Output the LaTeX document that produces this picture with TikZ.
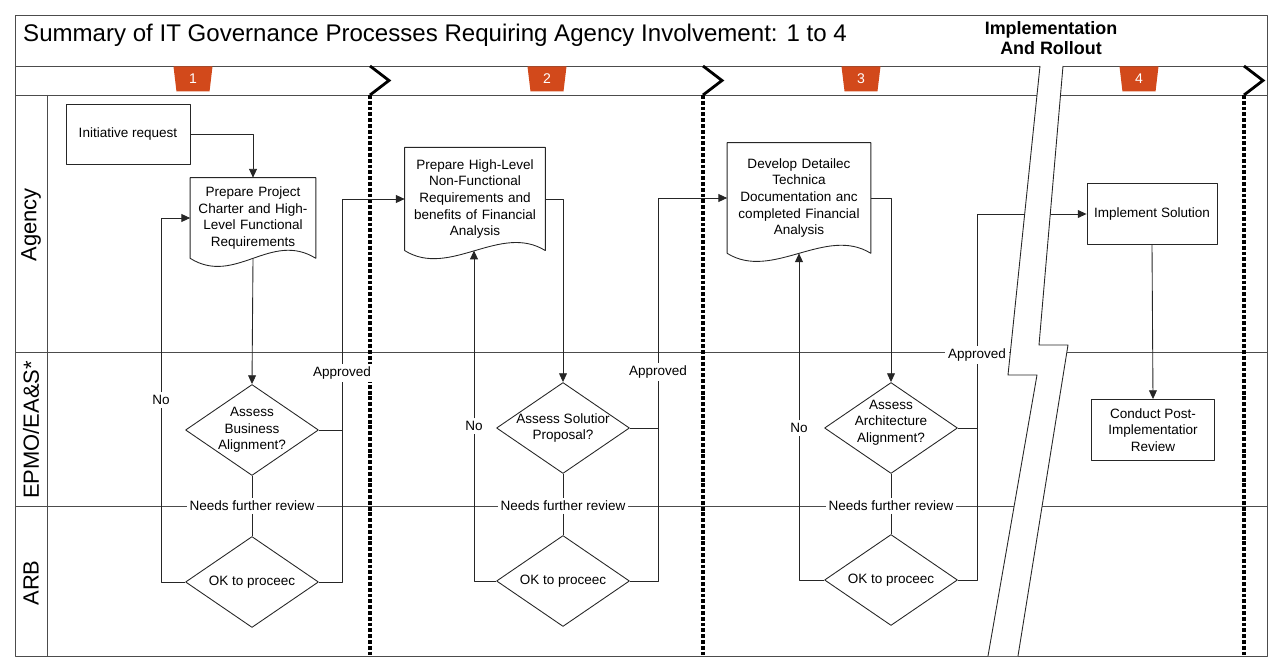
\documentclass[tikz,border=0pt]{standalone}
\usepackage{fontspec}
\setmainfont{Liberation Sans}
\usetikzlibrary{arrows.meta,shapes.geometric}
\definecolor{badgered}{HTML}{D2491B}
\tikzset{
  frame/.style={draw=black!70,line width=0.5pt},
  line/.style={draw=black!85,line width=0.5pt},
  proc/.style={line,align=center,inner sep=1pt},
  docbox/.style={align=center,inner sep=0pt},
  dia/.style={line,diamond,minimum width=2.66cm,minimum height=1.82cm,inner sep=0pt},
  lbl/.style={fill=white,inner sep=1.5pt},
  lane/.style={rotate=90,font=\fontsize{12.5}{14}\selectfont},
  badge/.style={fill=badgered,trapezium,trapezium angle=73,shape border rotate=180,
    trapezium stretches body,minimum width=0.78cm,minimum height=0.5cm,inner sep=0pt,
    text=white,font=\fontsize{8}{9}\selectfont},
  phase/.style={line width=1.8pt,dash pattern=on 2.2pt off 1.1pt},
  chev/.style={line width=1.6pt,line join=miter}
}
\begin{document}
\begin{tikzpicture}[>={Triangle[length=5pt,width=4.5pt]},line join=round,x=0.02cm,y=-0.02cm,
  font=\fontsize{7.7}{9.4}\selectfont]
\useasboundingbox (0,0) rectangle (1275,658);
\def\docline#1{\draw[line] (#1.south west) -- (#1.north west) -- (#1.north east) -- (#1.south east)
  .. controls +(-45,-28) and +(45,28) .. (#1.south west);}

\draw[frame] (15,15) rectangle (1267,656);
\draw[frame] (15,66) -- (1267,66) (15,95) -- (1267,95);
\draw[frame] (47,95) -- (47,656);
\draw[frame] (15,352) -- (1267,352) (15,506) -- (1267,506);

\node[anchor=west,font=\fontsize{13.7}{16}\selectfont] (title) at (17,35)
  {Summary of IT Governance Processes Requiring Agency Involvement: 1 to 4};
\node[align=center,font=\fontsize{10.2}{11.4}\bfseries] (rollout) at (1051,38) {Implementation\\And Rollout};

\node[lane] (agency) at (31,225) {Agency};
\node[lane] (epmo) at (31,430) {EPMO/EA\&S*};
\node[lane] (arb) at (31,583) {ARB};

\foreach \x in {370,703,1244}{
  \draw[phase] (\x,95) -- (\x,656);
  \draw[chev] (\x,66) -- (\x+19,80.5) -- (\x,95);
}
\foreach \n/\x in {1/193,2/547,3/861,4/1139}
  \node[badge] (badge\n) at (\x,79) {\n};

\node[proc,minimum width=2.48cm,minimum height=1.2cm] (init) at (128,134) {Initiative request};
\node[docbox,text width=2.5cm,minimum height=1.6cm] (doc1) at (253,218)
  {Prepare Project\\Charter and High-\\Level Functional\\Requirements};
\node[dia,label={[align=center]center:Assess\\Business\\Alignment?}] (assess1) at (252,430) {};
\node[dia,label={center:OK to proceec}] (ok1) at (252,582) {};
\node[lbl] (nfr1) at (252,506) {Needs further review};
\node[lbl] (no1) at (161,400) {No};
\node[lbl] (ap1) at (342,373) {Approved};

\node[docbox,text width=2.8cm,minimum height=2.05cm] (doc2) at (475,199)
  {Prepare High-Level\\Non-Functional\\Requirements and\\benefits of Financial\\Analysis};
\node[dia,label={[align=center]center:Assess Solutior\\Proposal?}] (assess2) at (563,428) {};
\node[dia,label={center:OK to proceec}] (ok2) at (563,581) {};
\node[lbl] (nfr2) at (563,506) {Needs further review};
\node[lbl] (no2) at (474,426) {No};
\node[lbl] (ap2) at (658,372) {Approved};

\node[docbox,text width=2.86cm,minimum height=2.2cm] (doc3) at (799,198)
  {Develop Detailec\\Technica\\Documentation anc\\completed Financial\\Analysis};
\node[dia,label={[align=center,yshift=3pt]center:Assess\\Architecture\\Alignment?}] (assess3) at (891,428) {};
\node[dia,label={center:OK to proceec}] (ok3) at (891,580) {};
\node[lbl] (nfr3) at (891,506) {Needs further review};
\node[lbl] (no3) at (799,428) {No};
\node[lbl] (ap3) at (977,355) {Approved};

\node[proc,minimum width=2.6cm,minimum height=1.22cm] (impl) at (1152,214) {Implement Solution};
\node[proc,minimum width=2.46cm,minimum height=1.22cm] (review) at (1153,430)
  {Conduct Post-\\Implementatior\\Review};

\docline{doc1}
\docline{doc2}
\docline{doc3}

\draw[line,->] (init.east) -| (doc1.north);
\draw[line,->] (doc1.south) -- (assess1.north);
\draw[line] (assess1.south) -- (nfr1) -- (ok1.north);
\draw[line] (ok1.west) -| (no1);
\draw[line,->] (no1) |- (doc1.west);
\draw[line] (ok1.east) -| (ap1);
\draw[line] (assess1.east) -- (assess1.east -| ap1);
\draw[line,->] (ap1) |- (doc2.west);

\draw[line,->] (doc2.east) -| (assess2.north);
\draw[line] (assess2.south) -- (nfr2) -- (ok2.north);
\draw[line] (ok2.west) -| (no2);
\draw[line,->] (no2) -- (no2 |- doc2.south);
\draw[line] (ok2.east) -| (ap2);
\draw[line] (assess2.east) -- (assess2.east -| ap2);
\draw[line,->] (ap2) |- (doc3.west);

\draw[line,->] (doc3.east) -| (assess3.north);
\draw[line] (assess3.south) -- (nfr3) -- (ok3.north);
\draw[line] (ok3.west) -| (no3);
\draw[line,->] (no3) -- (no3 |- doc3.south);
\draw[line] (ok3.east) -| (ap3);
\draw[line] (assess3.east) -- (assess3.east -| ap3);
\draw[line,->] (ap3) |- (impl.west);

\draw[line,->] (impl.south) -- (review.north);

\fill[white] (1040,66) -- (1063,66) -- (1039,345) -- (1068,345) -- (1018,656)
  -- (988,656) -- (1037,375) -- (1008,375) -- cycle;
\draw[line] (1040,66) -- (1008,375) -- (1037,375) -- (988,656);
\draw[line] (1063,66) -- (1039,345) -- (1068,345) -- (1018,656);
\end{tikzpicture}
\end{document}
